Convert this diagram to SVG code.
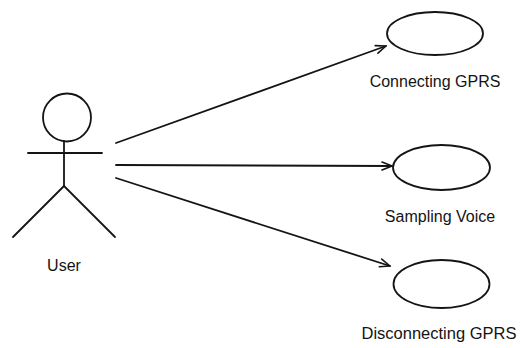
<svg xmlns="http://www.w3.org/2000/svg" width="521" height="348" viewBox="0 0 521 348">
  <style>
    .stroke { fill: none; stroke: #141414; stroke-width: 1.8; stroke-linecap: round; stroke-linejoin: round; }
    .label { font-family: "Liberation Sans", Arial, sans-serif; font-size: 16px; fill: #141414; text-anchor: middle; }
  </style>
  <defs>
    <marker id="open-arrow" viewBox="0 0 12 10" refX="11" refY="5" markerWidth="12" markerHeight="10" markerUnits="userSpaceOnUse" orient="auto">
      <path d="M1,1 L11,5 L1,9" fill="none" stroke="#141414" stroke-width="1.6" stroke-linecap="round" stroke-linejoin="round"/>
    </marker>
  </defs>
  <rect width="521" height="348" fill="#ffffff"/>

  <!-- actor -->
  <g id="user">
    <circle class="stroke" cx="67" cy="117.5" r="24"/>
    <line class="stroke" x1="64" y1="141.5" x2="64" y2="186"/>
    <line class="stroke" x1="28" y1="153" x2="102" y2="153"/>
    <line class="stroke" x1="64" y1="186" x2="13" y2="237"/>
    <line class="stroke" x1="64" y1="186" x2="115" y2="237"/>
    <text class="label" x="64" y="270.5">User</text>
  </g>

  <!-- use cases -->
  <g id="connecting-gprs">
    <ellipse class="stroke" cx="435" cy="33.5" rx="48" ry="21.5"/>
    <text class="label" x="435" y="87">Connecting GPRS</text>
  </g>
  <g id="sampling-voice">
    <ellipse class="stroke" cx="441.5" cy="167.5" rx="48.5" ry="22.5"/>
    <text class="label" x="440" y="222">Sampling Voice</text>
  </g>
  <g id="disconnecting-gprs">
    <ellipse class="stroke" cx="441.5" cy="284" rx="48" ry="24"/>
    <text class="label" x="439" y="339" style="font-size:16.5px">Disconnecting GPRS</text>
  </g>

  <!-- associations -->
  <g id="connectors">
    <line class="stroke" x1="116" y1="143" x2="386" y2="46" marker-end="url(#open-arrow)"/>
    <line class="stroke" x1="116" y1="165" x2="392" y2="166" marker-end="url(#open-arrow)"/>
    <line class="stroke" x1="116" y1="178" x2="390" y2="266" marker-end="url(#open-arrow)"/>
  </g>
</svg>
